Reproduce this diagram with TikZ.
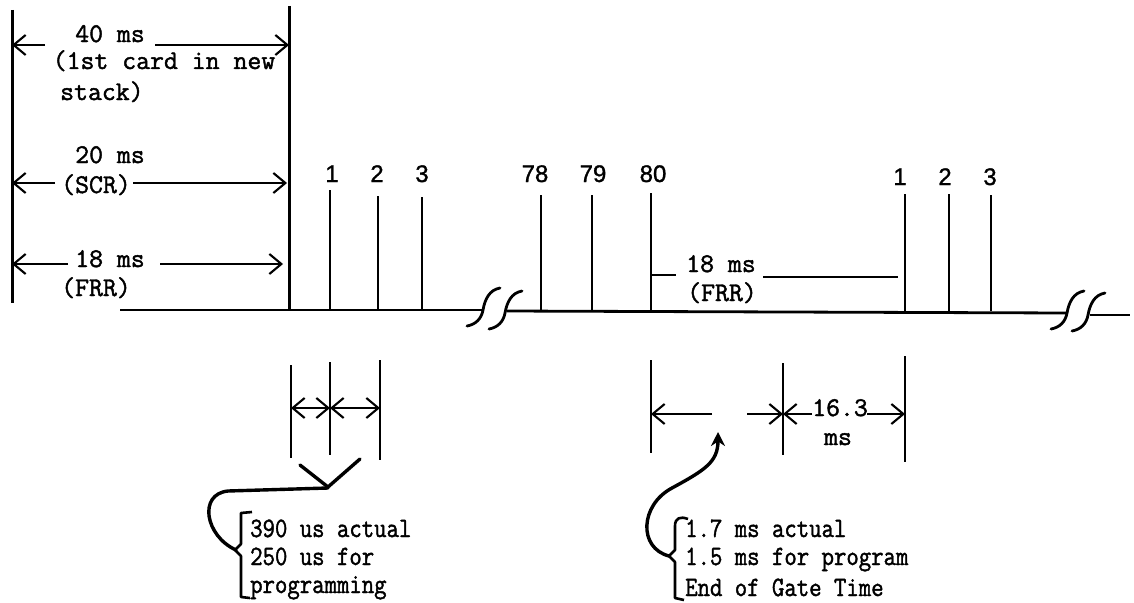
\documentclass[tikz,border=0pt]{standalone}
\usepackage{fontspec}
\usepackage{graphicx}
\usetikzlibrary{arrows.meta}
\newfontfamily\numfont{Liberation Sans}[FakeBold=1.2]
\newfontfamily\typew{Latin Modern Mono}[FakeBold=1.6]
\tikzset{
  ln/.style={line width=2.8pt},
  tall/.style={line width=3pt},
  barb/.style={line width=2.1pt, -{Straight Barb[length=12pt,width=20pt]}},
  dbarb/.style={line width=2.1pt, {Straight Barb[length=12pt,width=20pt]}-{Straight Barb[length=12pt,width=20pt]}},
  curly/.style={line width=3.4pt, line cap=round, line join=round},
  brack/.style={line width=2.6pt, line join=round},
  pica/.style={font=\fontsize{27}{30}\selectfont\typew, inner sep=0pt, anchor=base},
  elite/.style={font=\fontsize{28}{30}\selectfont\typew, inner sep=0pt, anchor=base west},
  num/.style={font=\fontsize{24}{26}\selectfont\numfont, inner sep=0pt, anchor=base},
  brk/.pic={\draw[line width=2.8pt, line cap=round] (-16,16) to[out=10,in=-100] (0,0) to[out=80,in=190] (17,-22);}
}
\newcommand{\eliteline}[1]{\scalebox{0.86}[1]{#1}}
\begin{document}
\begin{tikzpicture}[x=1pt,y=-1pt]
\useasboundingbox (0,0) rectangle (1134,602);
% tall reference lines
\coordinate (Ltop) at (12,10); \coordinate (Lbot) at (12,303);
\coordinate (Rtop) at (289,6); \coordinate (Rbot) at (289,311);
\draw[tall] (Ltop) -- (Lbot);
\draw[tall] (Rtop) -- (Rbot);
% top labels
\node[pica] (t40) at (110,42) {40 ms};
\node[pica] (t1st) at (164,69) {(1st card in new};
\node[pica, anchor=base west] (tstack) at (60,100) {stack)};
\node[pica] (t20) at (110,163) {20 ms};
\node[pica] (tscr) at (96,193) {(SCR)};
\node[pica] (t18) at (110,267) {18 ms};
\node[pica] (tfrr) at (96,296) {(FRR)};
% dimension arrows top-left
\coordinate (a40l) at (12,45); \coordinate (a40r) at (289,45);
\draw[barb] (45,45) -- (a40l);
\draw[barb] (155,45) -- (a40r);
\coordinate (a20l) at (12,183); \coordinate (a20r) at (287,183);
\draw[barb] (55,183) -- (a20l);
\draw[barb] (133,183) -- (a20r);
\coordinate (a18l) at (12,264); \coordinate (a18r) at (283,264);
\draw[barb] (68,264) -- (a18l);
\draw[barb] (160,264) -- (a18r);
% baseline with breaks
\draw[ln] (120,310) -- (483,310);
\pic at (483,310) {brk};
\pic at (505,313) {brk};
\draw[ln] (507,311) -- (1067,313);
\pic at (1067,313) {brk};
\pic at (1088,315) {brk};
\draw[ln] (1090,315) -- (1130,315);
% ticks
\foreach \nm/\x/\t/\lbl/\lx/\ly in {k1/330/190/1/332/182, k2/378/196/2/377/182, k3/422/197/3/422/182,
  k78/541/195/78/535/182, k79/592/195/79/593/182, k80/651/193/80/653/182,
  m1/905/194/1/900/185, m2/949/194/2/945/185, m3/991/195/3/990/185}{
  \draw[ln] (\x,\t) -- (\x,311);
  \node[num] (\nm) at (\lx,\ly) {\lbl};
}
% right 18 ms FRR
\draw[ln] (651,275) -- (676,275);
\node[pica] (r18) at (721,272) {18 ms};
\node[pica] (rfrr) at (722,301) {(FRR)};
\draw[ln] (763,277) -- (898,277);
% bottom-left dimension group
\draw[ln] (291,365) -- (291,458);
\draw[ln] (330,362) -- (330,455);
\draw[ln] (380,360) -- (380,460);
\draw[dbarb] (291,408) -- (330,408);
\draw[dbarb] (330,408) -- (380,408);
\draw[curly] (300,465) -- (328,487) -- (360,459);
\draw[curly] (328,488) -- (228,491) .. controls (198,494) and (205,536) .. (236,550);
\draw[brack] (252,512) -- (241,513) -- (241,544) -- (235,550) -- (241,556) -- (241,597) -- (250,598);
\node[elite] (n390) at (250,537) {\eliteline{390 us actual}};
\node[elite] (n250) at (250,565) {\eliteline{250 us for}};
\node[elite] (nprog) at (250,593) {\eliteline{programming}};
% bottom-right dimension group
\draw[ln] (651,360) -- (651,453);
\draw[ln] (783,363) -- (783,455);
\draw[ln] (905,356) -- (905,462);
\draw[barb] (712,414) -- (651,414);
\draw[barb] (747,414) -- (783,414);
\draw[barb] (812,414) -- (783,414);
\draw[barb] (867,414) -- (905,414);
\node[pica] (d163) at (840,416) {16.3};
\node[pica] (dms) at (838,445) {ms};
\draw[brack] (688,519) .. controls (680,516) and (675,518) .. (675,526) -- (675,550) -- (669,556) -- (675,562) -- (675,598) -- (684,600);
\draw[curly, -{Stealth[length=14pt,width=14pt]}] (669,556) .. controls (638,548) and (640,505) .. (672,488) .. controls (705,470) and (718,462) .. (718,432);
\node[elite] (n17) at (685,537) {\eliteline{1.7 ms actual}};
\node[elite] (n15) at (685,565) {\eliteline{1.5 ms for program}};
\node[elite] (nend) at (685,596) {\eliteline{End of Gate Time}};
\end{tikzpicture}
\end{document}
